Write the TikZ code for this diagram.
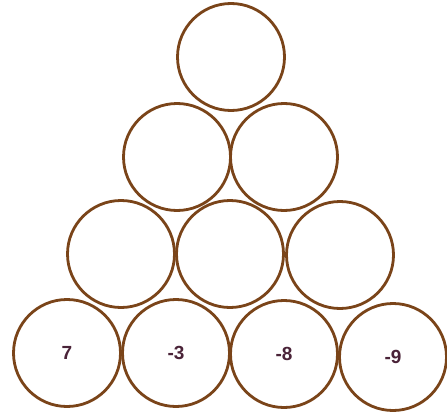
\documentclass[tikz,border=0pt]{standalone}
\usepackage{fontspec}
\setmainfont{Liberation Sans}
\definecolor{ring}{HTML}{7A4419}
\definecolor{num}{HTML}{4A2338}
\begin{document}
\begin{tikzpicture}[x=1pt,y=-1pt,
  ball/.style={circle,draw=ring,line width=2.8pt,fill=white,minimum size=107pt,inner sep=0pt,
    font=\bfseries\fontsize{19}{22}\selectfont,text=num}]
\useasboundingbox[fill=white] (0,0) rectangle (447,412);
\node[ball] (a1) at (231,57) {};
\node[ball] (b1) at (177,157) {};
\node[ball] (b2) at (284,157) {};
\node[ball] (c1) at (121,254) {};
\node[ball] (c2) at (230,254) {};
\node[ball] (c3) at (340,255) {};
\node[ball] (d1) at (67,353) {7};
\node[ball] (d2) at (176,353) {-3};
\node[ball] (d3) at (284,354) {-8};
\node[ball] (d4) at (393,357) {-9};
\end{tikzpicture}
\end{document}
